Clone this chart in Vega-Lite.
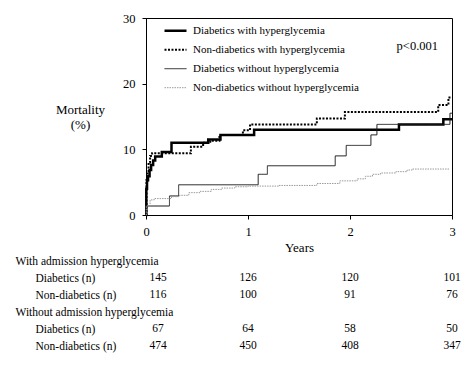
{
  "$schema": "https://vega.github.io/schema/vega-lite/v6.json",
  "padding": {"left": 15, "top": 11, "right": 10, "bottom": 5},
  "background": "white",
  "spacing": 0,
  "resolve": {"scale": {"x": "independent", "y": "independent"}},
  "config": {
    "font": "Liberation Serif",
    "view": {"stroke": null},
    "axis": {"domainColor": "#000", "tickColor": "#000", "labelColor": "#000", "titleColor": "#000", "labelFont": "Liberation Serif", "titleFont": "Liberation Serif", "titleFontWeight": "normal", "grid": false},
    "text": {"font": "Liberation Serif", "color": "#000"}
  },
  "datasets": {
    "curves": [
      {"g": "Diabetics with hyperglycemia", "t": 0, "m": 0},
      {"g": "Diabetics with hyperglycemia", "t": 0.003, "m": 4.0},
      {"g": "Diabetics with hyperglycemia", "t": 0.01, "m": 5.3},
      {"g": "Diabetics with hyperglycemia", "t": 0.02, "m": 5.9},
      {"g": "Diabetics with hyperglycemia", "t": 0.035, "m": 6.85},
      {"g": "Diabetics with hyperglycemia", "t": 0.05, "m": 7.6},
      {"g": "Diabetics with hyperglycemia", "t": 0.07, "m": 8.3},
      {"g": "Diabetics with hyperglycemia", "t": 0.09, "m": 8.9},
      {"g": "Diabetics with hyperglycemia", "t": 0.155, "m": 9.6},
      {"g": "Diabetics with hyperglycemia", "t": 0.25, "m": 11.0},
      {"g": "Diabetics with hyperglycemia", "t": 0.61, "m": 11.5},
      {"g": "Diabetics with hyperglycemia", "t": 0.73, "m": 12.2},
      {"g": "Diabetics with hyperglycemia", "t": 1.06, "m": 13.0},
      {"g": "Diabetics with hyperglycemia", "t": 2.48, "m": 13.8},
      {"g": "Diabetics with hyperglycemia", "t": 2.915, "m": 14.6},
      {"g": "Diabetics with hyperglycemia", "t": 3.0, "m": 14.6},
      {"g": "Non-diabetics with hyperglycemia", "t": 0, "m": 0},
      {"g": "Non-diabetics with hyperglycemia", "t": 0.005, "m": 5.3},
      {"g": "Non-diabetics with hyperglycemia", "t": 0.015, "m": 6.5},
      {"g": "Non-diabetics with hyperglycemia", "t": 0.025, "m": 8.0},
      {"g": "Non-diabetics with hyperglycemia", "t": 0.04, "m": 9.0},
      {"g": "Non-diabetics with hyperglycemia", "t": 0.06, "m": 9.4},
      {"g": "Non-diabetics with hyperglycemia", "t": 0.44, "m": 10.4},
      {"g": "Non-diabetics with hyperglycemia", "t": 0.56, "m": 11.0},
      {"g": "Non-diabetics with hyperglycemia", "t": 0.63, "m": 11.3},
      {"g": "Non-diabetics with hyperglycemia", "t": 0.72, "m": 12.2},
      {"g": "Non-diabetics with hyperglycemia", "t": 0.95, "m": 12.9},
      {"g": "Non-diabetics with hyperglycemia", "t": 1.02, "m": 13.8},
      {"g": "Non-diabetics with hyperglycemia", "t": 1.675, "m": 14.7},
      {"g": "Non-diabetics with hyperglycemia", "t": 1.95, "m": 15.7},
      {"g": "Non-diabetics with hyperglycemia", "t": 2.865, "m": 16.75},
      {"g": "Non-diabetics with hyperglycemia", "t": 2.965, "m": 17.9},
      {"g": "Non-diabetics with hyperglycemia", "t": 3.0, "m": 17.9},
      {"g": "Diabetics without hyperglycemia", "t": 0, "m": 0},
      {"g": "Diabetics without hyperglycemia", "t": 0.002, "m": 1.37},
      {"g": "Diabetics without hyperglycemia", "t": 0.23, "m": 2.9},
      {"g": "Diabetics without hyperglycemia", "t": 0.32, "m": 4.6},
      {"g": "Diabetics without hyperglycemia", "t": 1.10, "m": 6.2},
      {"g": "Diabetics without hyperglycemia", "t": 1.19, "m": 7.5},
      {"g": "Diabetics without hyperglycemia", "t": 1.855, "m": 9.0},
      {"g": "Diabetics without hyperglycemia", "t": 1.963, "m": 10.6},
      {"g": "Diabetics without hyperglycemia", "t": 2.205, "m": 12.2},
      {"g": "Diabetics without hyperglycemia", "t": 2.264, "m": 13.8},
      {"g": "Diabetics without hyperglycemia", "t": 2.98, "m": 15.5},
      {"g": "Diabetics without hyperglycemia", "t": 3.0, "m": 15.5},
      {"g": "Non-diabetics without hyperglycemia", "t": 0, "m": 0},
      {"g": "Non-diabetics without hyperglycemia", "t": 0.003, "m": 1.4},
      {"g": "Non-diabetics without hyperglycemia", "t": 0.04, "m": 2.3},
      {"g": "Non-diabetics without hyperglycemia", "t": 0.08, "m": 2.5},
      {"g": "Non-diabetics without hyperglycemia", "t": 0.25, "m": 2.8},
      {"g": "Non-diabetics without hyperglycemia", "t": 0.33, "m": 3.0},
      {"g": "Non-diabetics without hyperglycemia", "t": 0.42, "m": 3.4},
      {"g": "Non-diabetics without hyperglycemia", "t": 0.53, "m": 3.6},
      {"g": "Non-diabetics without hyperglycemia", "t": 0.64, "m": 3.9},
      {"g": "Non-diabetics without hyperglycemia", "t": 0.74, "m": 4.1},
      {"g": "Non-diabetics without hyperglycemia", "t": 0.87, "m": 4.3},
      {"g": "Non-diabetics without hyperglycemia", "t": 1.0, "m": 4.4},
      {"g": "Non-diabetics without hyperglycemia", "t": 1.3, "m": 4.5},
      {"g": "Non-diabetics without hyperglycemia", "t": 1.675, "m": 4.8},
      {"g": "Non-diabetics without hyperglycemia", "t": 1.9, "m": 5.2},
      {"g": "Non-diabetics without hyperglycemia", "t": 2.07, "m": 5.5},
      {"g": "Non-diabetics without hyperglycemia", "t": 2.15, "m": 5.9},
      {"g": "Non-diabetics without hyperglycemia", "t": 2.22, "m": 6.2},
      {"g": "Non-diabetics without hyperglycemia", "t": 2.3, "m": 6.4},
      {"g": "Non-diabetics without hyperglycemia", "t": 2.45, "m": 6.6},
      {"g": "Non-diabetics without hyperglycemia", "t": 2.56, "m": 6.85},
      {"g": "Non-diabetics without hyperglycemia", "t": 2.61, "m": 7.0},
      {"g": "Non-diabetics without hyperglycemia", "t": 2.98, "m": 7.0}
    ],
    "risk": [
      {"row": 2, "year": 0, "n": 145}, {"row": 2, "year": 1, "n": 126}, {"row": 2, "year": 2, "n": 120}, {"row": 2, "year": 3, "n": 101},
      {"row": 3, "year": 0, "n": 116}, {"row": 3, "year": 1, "n": 100}, {"row": 3, "year": 2, "n": 91}, {"row": 3, "year": 3, "n": 76},
      {"row": 5, "year": 0, "n": 67}, {"row": 5, "year": 1, "n": 64}, {"row": 5, "year": 2, "n": 58}, {"row": 5, "year": 3, "n": 50},
      {"row": 6, "year": 0, "n": 474}, {"row": 6, "year": 1, "n": 450}, {"row": 6, "year": 2, "n": 408}, {"row": 6, "year": 3, "n": 347}
    ]
  },
  "vconcat": [
    {
      "width": 306,
      "height": 197,
      "view": {"stroke": "#000", "strokeWidth": 1},
      "layer": [
        {
          "data": {"name": "curves"},
          "mark": {"type": "line", "interpolate": "step-after"},
          "encoding": {
            "x": {"field": "t", "type": "quantitative", "scale": {"domain": [0, 3], "nice": false},
              "axis": {"values": [0, 1, 2, 3], "format": "d", "tickSize": 4, "labelPadding": 6, "labelFontSize": 12.5, "labelFlush": false, "title": "Years", "titleFontSize": 13, "titlePadding": 4}},
            "y": {"field": "m", "type": "quantitative", "scale": {"domain": [0, 30], "nice": false},
              "axis": {"values": [0, 10, 20, 30], "tickSize": 4, "labelPadding": 7, "labelFontSize": 12.5, "title": ["Mortality", "(%)"], "titleAngle": 0, "titleAlign": "center", "titleBaseline": "alphabetic", "titleX": -66, "titleY": 95, "titleFontSize": 13, "titleLineHeight": 15}},
            "color": {"field": "g", "type": "nominal",
              "scale": {"domain": ["Diabetics with hyperglycemia", "Non-diabetics with hyperglycemia", "Diabetics without hyperglycemia", "Non-diabetics without hyperglycemia"], "range": ["#000000", "#000000", "#1a1a1a", "#9a9a9a"]},
              "legend": {"title": null, "orient": "none", "legendX": 17, "legendY": 3.5, "symbolType": "stroke", "symbolSize": 484, "labelOffset": 5, "labelFontSize": 11, "labelFont": "Liberation Serif", "labelColor": "#000", "clipHeight": 18.4, "rowPadding": 0, "padding": 0, "labelLimit": 0}},
            "strokeDash": {"field": "g", "type": "nominal",
              "scale": {"domain": ["Diabetics with hyperglycemia", "Non-diabetics with hyperglycemia", "Diabetics without hyperglycemia", "Non-diabetics without hyperglycemia"], "range": [[1, 0], [2, 1.5], [1, 0], [1.5, 1]]}},
            "strokeWidth": {"field": "g", "type": "nominal",
              "scale": {"type": "ordinal", "domain": ["Diabetics with hyperglycemia", "Non-diabetics with hyperglycemia", "Diabetics without hyperglycemia", "Non-diabetics without hyperglycemia"], "range": [2.5, 2, 1, 1]}}
          }
        },
        {
          "data": {"values": [{"t": 2.66, "m": 25.7, "label": "p<0.001"}]},
          "mark": {"type": "text", "fontSize": 12.5, "align": "center", "baseline": "middle"},
          "encoding": {
            "x": {"field": "t", "type": "quantitative"},
            "y": {"field": "m", "type": "quantitative"},
            "text": {"field": "label"}
          }
        }
      ]
    },
    {
      "width": 306,
      "height": 95.2,
      "data": {"name": "risk"},
      "encoding": {
        "x": {"field": "year", "type": "quantitative", "scale": {"domain": [0, 3], "nice": false}, "axis": null},
        "y": {"field": "row", "type": "ordinal", "scale": {"type": "point", "domain": [1, 2, 3, 4, 5, 6], "padding": 0.3},
          "axis": {"title": null, "domain": false, "ticks": false, "tickSize": 0, "labelAlign": "left", "labelBaseline": "middle",
            "labelPadding": {"condition": {"test": "datum.value == 1 || datum.value == 4", "value": 131}, "value": 111},
            "labelExpr": "['With admission hyperglycemia', 'Diabetics (n)', 'Non-diabetics (n)', 'Without admission hyperglycemia', 'Diabetics (n)', 'Non-diabetics (n)'][datum.value - 1]",
            "labelFontSize": 11.5, "labelLimit": 0}},
        "text": {"field": "n", "type": "quantitative"}
      },
      "layer": [
        {"transform": [{"filter": "datum.year == 0"}], "mark": {"type": "text", "fontSize": 11.5, "dx": 12}},
        {"transform": [{"filter": "datum.year > 0"}], "mark": {"type": "text", "fontSize": 11.5}}
      ]
    }
  ]
}
